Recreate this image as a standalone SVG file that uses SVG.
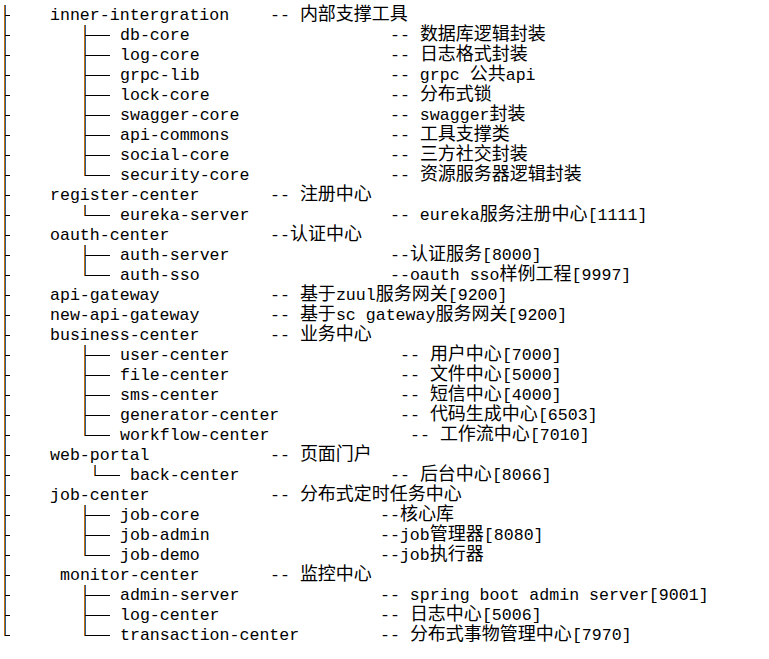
<svg xmlns="http://www.w3.org/2000/svg" width="769" height="659" viewBox="0 0 769 659">
<style>
text{font-family:"Liberation Mono","DejaVu Sans Mono",monospace;font-size:16.6px;fill:#000;white-space:pre}
.c{font-family:"Noto Sans CJK SC","Noto Sans CJK JP",sans-serif;font-size:18px}
.vo{stroke:#c86a00;stroke-width:1;fill:none}
.vb{stroke:#2a5f95;stroke-width:1;fill:none}
.t{stroke:#000;stroke-width:1;fill:none}
</style>
<rect width="769" height="659" fill="#fff"/>
<g id="connectors">
<path class="vo" d="M4.5 5V636M84.5 25V176M84.5 205V216M84.5 245V276M84.5 345V436M94.5 465V476M84.5 505V556M84.5 585V636"/>
<path class="vb" d="M5.5 5V636M85.5 25V176M85.5 205V216M85.5 245V276M85.5 345V436M95.5 465V476M85.5 505V556M85.5 585V636"/>
<path class="t" d="M5 15.5h5M5 35.5h5M5 55.5h5M5 75.5h5M5 95.5h5M5 115.5h5M5 135.5h5M5 155.5h5M5 175.5h5M5 195.5h5M5 215.5h5M5 235.5h5M5 255.5h5M5 275.5h5M5 295.5h5M5 315.5h5M5 335.5h5M5 355.5h5M5 375.5h5M5 395.5h5M5 415.5h5M5 435.5h5M5 455.5h5M5 475.5h5M5 495.5h5M5 515.5h5M5 535.5h5M5 555.5h5M5 575.5h5M5 595.5h5M5 615.5h5M5 635.5h5"/>
<path class="t" d="M85 35.5h25M85 55.5h25M85 75.5h25M85 95.5h25M85 115.5h25M85 135.5h25M85 155.5h25M85 175.5h25M85 215.5h25M85 255.5h25M85 275.5h25M85 355.5h25M85 375.5h25M85 395.5h25M85 415.5h25M85 435.5h25M95 475.5h25M85 515.5h25M85 535.5h25M85 555.5h25M85 595.5h25M85 615.5h25M85 635.5h25"/>
</g>
<g id="inner-intergration"><text x="50" y="20">inner-intergration</text><text x="270" y="20">-- <tspan class="c">内部支撑工具</tspan></text></g>
<g id="db-core"><text x="120" y="40">db-core</text><text x="390" y="40">-- <tspan class="c">数据库逻辑封装</tspan></text></g>
<g id="log-core"><text x="120" y="60">log-core</text><text x="390" y="60">-- <tspan class="c">日志格式封装</tspan></text></g>
<g id="grpc-lib"><text x="120" y="80">grpc-lib</text><text x="390" y="80">-- grpc <tspan class="c">公共</tspan>api</text></g>
<g id="lock-core"><text x="120" y="100">lock-core</text><text x="390" y="100">-- <tspan class="c">分布式锁</tspan></text></g>
<g id="swagger-core"><text x="120" y="120">swagger-core</text><text x="390" y="120">-- swagger<tspan class="c">封装</tspan></text></g>
<g id="api-commons"><text x="120" y="140">api-commons</text><text x="390" y="140">-- <tspan class="c">工具支撑类</tspan></text></g>
<g id="social-core"><text x="120" y="160">social-core</text><text x="390" y="160">-- <tspan class="c">三方社交封装</tspan></text></g>
<g id="security-core"><text x="120" y="180">security-core</text><text x="390" y="180">-- <tspan class="c">资源服务器逻辑封装</tspan></text></g>
<g id="register-center"><text x="50" y="200">register-center</text><text x="270" y="200">-- <tspan class="c">注册中心</tspan></text></g>
<g id="eureka-server"><text x="120" y="220">eureka-server</text><text x="390" y="220">-- eureka<tspan class="c">服务注册中心</tspan>[1111]</text></g>
<g id="oauth-center"><text x="50" y="240">oauth-center</text><text x="270" y="240">--<tspan class="c">认证中心</tspan></text></g>
<g id="auth-server"><text x="120" y="260">auth-server</text><text x="390" y="260">--<tspan class="c">认证服务</tspan>[8000]</text></g>
<g id="auth-sso"><text x="120" y="280">auth-sso</text><text x="390" y="280">--oauth sso<tspan class="c">样例工程</tspan>[9997]</text></g>
<g id="api-gateway"><text x="50" y="300">api-gateway</text><text x="270" y="300">-- <tspan class="c">基于</tspan>zuul<tspan class="c">服务网关</tspan>[9200]</text></g>
<g id="new-api-gateway"><text x="50" y="320">new-api-gateway</text><text x="270" y="320">-- <tspan class="c">基于</tspan>sc gateway<tspan class="c">服务网关</tspan>[9200]</text></g>
<g id="business-center"><text x="50" y="340">business-center</text><text x="270" y="340">-- <tspan class="c">业务中心</tspan></text></g>
<g id="user-center"><text x="120" y="360">user-center</text><text x="400" y="360">-- <tspan class="c">用户中心</tspan>[7000]</text></g>
<g id="file-center"><text x="120" y="380">file-center</text><text x="400" y="380">-- <tspan class="c">文件中心</tspan>[5000]</text></g>
<g id="sms-center"><text x="120" y="400">sms-center</text><text x="400" y="400">-- <tspan class="c">短信中心</tspan>[4000]</text></g>
<g id="generator-center"><text x="120" y="420">generator-center</text><text x="400" y="420">-- <tspan class="c">代码生成中心</tspan>[6503]</text></g>
<g id="workflow-center"><text x="120" y="440">workflow-center</text><text x="410" y="440">-- <tspan class="c">工作流中心</tspan>[7010]</text></g>
<g id="web-portal"><text x="50" y="460">web-portal</text><text x="270" y="460">-- <tspan class="c">页面门户</tspan></text></g>
<g id="back-center"><text x="130" y="480">back-center</text><text x="390" y="480">-- <tspan class="c">后台中心</tspan>[8066]</text></g>
<g id="job-center"><text x="50" y="500">job-center</text><text x="270" y="500">-- <tspan class="c">分布式定时任务中心</tspan></text></g>
<g id="job-core"><text x="120" y="520">job-core</text><text x="380" y="520">--<tspan class="c">核心库</tspan></text></g>
<g id="job-admin"><text x="120" y="540">job-admin</text><text x="380" y="540">--job<tspan class="c">管理器</tspan>[8080]</text></g>
<g id="job-demo"><text x="120" y="560">job-demo</text><text x="380" y="560">--job<tspan class="c">执行器</tspan></text></g>
<g id="monitor-center"><text x="60" y="580">monitor-center</text><text x="270" y="580">-- <tspan class="c">监控中心</tspan></text></g>
<g id="admin-server"><text x="120" y="600">admin-server</text><text x="380" y="600">-- spring boot admin server[9001]</text></g>
<g id="log-center"><text x="120" y="620">log-center</text><text x="380" y="620">-- <tspan class="c">日志中心</tspan>[5006]</text></g>
<g id="transaction-center"><text x="120" y="640">transaction-center</text><text x="380" y="640">-- <tspan class="c">分布式事物管理中心</tspan>[7970]</text></g>
</svg>
